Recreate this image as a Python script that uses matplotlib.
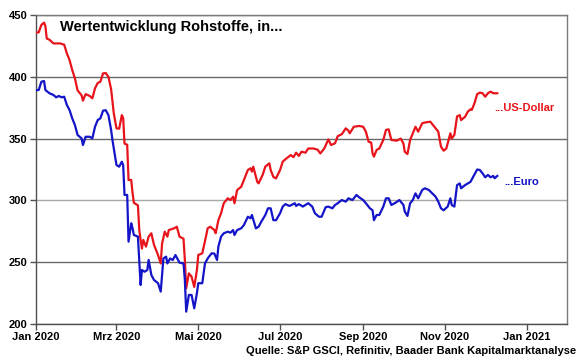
import matplotlib
matplotlib.use("Agg")
import matplotlib.pyplot as plt
import pandas as pd

plt.rcParams['font.family'] = ['Liberation Sans', 'DejaVu Sans']

title = "Wertentwicklung Rohstoffe, in..."
source = "Quelle: S&P GSCI, Refinitiv, Baader Bank Kapitalmarktanalyse"
label_usd = "...US-Dollar"
label_eur = "...Euro"

usd_dates = [
    "2020-01-01", "2020-01-03", "2020-01-05", "2020-01-07", "2020-01-08", "2020-01-09", "2020-01-11",
    "2020-01-14", "2020-01-16", "2020-01-19", "2020-01-22", "2020-01-24", "2020-01-26", "2020-01-28",
    "2020-01-30", "2020-02-01", "2020-02-04", "2020-02-05", "2020-02-07", "2020-02-10", "2020-02-12",
    "2020-02-14", "2020-02-16", "2020-02-18", "2020-02-20", "2020-02-22", "2020-02-24", "2020-02-26",
    "2020-02-28", "2020-03-01", "2020-03-03", "2020-03-05", "2020-03-06", "2020-03-07", "2020-03-09",
    "2020-03-10", "2020-03-12", "2020-03-13", "2020-03-14", "2020-03-17", "2020-03-18", "2020-03-19",
    "2020-03-20", "2020-03-21", "2020-03-23", "2020-03-25", "2020-03-27", "2020-03-29", "2020-04-01",
    "2020-04-03", "2020-04-04", "2020-04-06", "2020-04-08", "2020-04-09", "2020-04-13", "2020-04-15",
    "2020-04-17", "2020-04-20", "2020-04-21", "2020-04-22", "2020-04-24", "2020-04-26", "2020-04-28",
    "2020-04-30", "2020-05-01", "2020-05-04", "2020-05-07", "2020-05-08", "2020-05-10", "2020-05-13",
    "2020-05-14", "2020-05-16", "2020-05-18", "2020-05-20", "2020-05-23", "2020-05-25", "2020-05-27",
    "2020-05-28", "2020-05-30", "2020-06-02", "2020-06-04", "2020-06-07", "2020-06-09", "2020-06-10",
    "2020-06-11", "2020-06-14", "2020-06-15", "2020-06-18", "2020-06-20", "2020-06-23", "2020-06-24",
    "2020-06-26", "2020-06-28", "2020-07-01", "2020-07-03", "2020-07-05", "2020-07-09", "2020-07-11",
    "2020-07-13", "2020-07-15", "2020-07-17", "2020-07-20", "2020-07-22", "2020-07-26", "2020-07-29",
    "2020-07-31", "2020-08-03", "2020-08-06", "2020-08-08", "2020-08-11", "2020-08-13", "2020-08-16",
    "2020-08-19", "2020-08-21", "2020-08-22", "2020-08-25", "2020-08-29", "2020-09-01", "2020-09-03",
    "2020-09-05", "2020-09-07", "2020-09-08", "2020-09-09", "2020-09-11", "2020-09-13", "2020-09-16",
    "2020-09-18", "2020-09-20", "2020-09-22", "2020-09-26", "2020-09-29", "2020-10-01", "2020-10-02",
    "2020-10-04", "2020-10-06", "2020-10-08", "2020-10-10", "2020-10-12", "2020-10-15", "2020-10-17",
    "2020-10-21", "2020-10-22", "2020-10-25", "2020-10-27", "2020-10-29", "2020-10-31", "2020-11-02",
    "2020-11-05", "2020-11-06", "2020-11-08", "2020-11-10", "2020-11-12", "2020-11-13", "2020-11-16",
    "2020-11-18", "2020-11-20", "2020-11-21", "2020-11-23", "2020-11-25", "2020-11-27", "2020-11-29",
    "2020-12-01", "2020-12-03", "2020-12-05", "2020-12-07", "2020-12-10",
]
usd_values = [
    435.7, 436, 442, 443.8, 441, 431, 430,
    427, 427, 427, 426, 419, 413.6, 405.5,
    398.8, 389, 385, 380.7, 386, 384.5, 382.6,
    390.7, 395, 396, 402.8, 403, 400, 390,
    370.5, 358.3, 358, 369, 366.7, 346, 345,
    316.5, 316.5, 306, 298, 296, 276, 268,
    261, 268, 262.6, 270.7, 273.4, 264, 255.8,
    249, 265, 274.7, 270.7, 276, 277.4, 278.7,
    270.7, 269, 251.8, 228.9, 241, 238.3, 230,
    243.7, 255.8, 257.2, 272, 277.4, 278.7, 276,
    273.4, 284, 289.6, 297.7, 301.7, 300.3, 303,
    297.7, 308.4, 311, 316.5, 324.6, 326, 323.3,
    327.3, 315, 313.8, 320.6, 327.3, 330, 324.6,
    319, 317.8, 324.6, 331.3, 333.3, 336.7, 335,
    338.6, 336, 339.4, 338.6, 342, 342, 341,
    338, 342, 349.4, 344.8, 346.2, 352, 353.5,
    358.3, 356.4, 354.3, 359.6, 360.2, 359.6, 355.6,
    347.5, 346.7, 338, 335.4, 340.8, 342, 348.9,
    357, 357.5, 348.9, 348.3, 350, 346, 339.4,
    337.5, 348.9, 354.3, 359.6, 355.6, 362.4, 363,
    363.7, 362.4, 358.3, 355.6, 343.5, 340.2, 342,
    354.3, 350, 353, 368, 369, 365, 367.7,
    371.8, 373.7, 373.2, 378.6, 386, 387.2, 386.7,
    383.9, 386.7, 388, 386.7, 386.7,
]

eur_dates = [
    "2020-01-01", "2020-01-03", "2020-01-05", "2020-01-07", "2020-01-08", "2020-01-11", "2020-01-14",
    "2020-01-16", "2020-01-18", "2020-01-20", "2020-01-22", "2020-01-24", "2020-01-26", "2020-01-28",
    "2020-01-30", "2020-02-01", "2020-02-04", "2020-02-05", "2020-02-07", "2020-02-10", "2020-02-12",
    "2020-02-14", "2020-02-16", "2020-02-18", "2020-02-20", "2020-02-22", "2020-02-24", "2020-02-26",
    "2020-02-27", "2020-03-01", "2020-03-03", "2020-03-05", "2020-03-06", "2020-03-07", "2020-03-09",
    "2020-03-10", "2020-03-12", "2020-03-13", "2020-03-14", "2020-03-17", "2020-03-18", "2020-03-19",
    "2020-03-20", "2020-03-22", "2020-03-24", "2020-03-25", "2020-03-27", "2020-03-29", "2020-04-01",
    "2020-04-03", "2020-04-05", "2020-04-07", "2020-04-08", "2020-04-10", "2020-04-12", "2020-04-14",
    "2020-04-17", "2020-04-20", "2020-04-21", "2020-04-22", "2020-04-24", "2020-04-26", "2020-04-28",
    "2020-04-30", "2020-05-01", "2020-05-04", "2020-05-06", "2020-05-08", "2020-05-09", "2020-05-11",
    "2020-05-13", "2020-05-15", "2020-05-16", "2020-05-18", "2020-05-20", "2020-05-23", "2020-05-25",
    "2020-05-27", "2020-05-28", "2020-05-30", "2020-06-02", "2020-06-04", "2020-06-07", "2020-06-09",
    "2020-06-10", "2020-06-13", "2020-06-15", "2020-06-17", "2020-06-20", "2020-06-22", "2020-06-24",
    "2020-06-26", "2020-06-28", "2020-07-01", "2020-07-03", "2020-07-05", "2020-07-08", "2020-07-12",
    "2020-07-13", "2020-07-15", "2020-07-18", "2020-07-20", "2020-07-22", "2020-07-25", "2020-07-27",
    "2020-07-30", "2020-08-01", "2020-08-04", "2020-08-06", "2020-08-09", "2020-08-11", "2020-08-13",
    "2020-08-16", "2020-08-19", "2020-08-21", "2020-08-24", "2020-08-27", "2020-08-29", "2020-09-01",
    "2020-09-03", "2020-09-06", "2020-09-08", "2020-09-09", "2020-09-11", "2020-09-13", "2020-09-16",
    "2020-09-18", "2020-09-20", "2020-09-22", "2020-09-25", "2020-09-28", "2020-10-01", "2020-10-02",
    "2020-10-04", "2020-10-06", "2020-10-08", "2020-10-10", "2020-10-12", "2020-10-15", "2020-10-17",
    "2020-10-20", "2020-10-22", "2020-10-25", "2020-10-27", "2020-10-29", "2020-10-31", "2020-11-03",
    "2020-11-05", "2020-11-06", "2020-11-08", "2020-11-10", "2020-11-12", "2020-11-13", "2020-11-16",
    "2020-11-18", "2020-11-20", "2020-11-22", "2020-11-25", "2020-11-27", "2020-11-29", "2020-12-01",
    "2020-12-03", "2020-12-05", "2020-12-07", "2020-12-08", "2020-12-10",
]
eur_values = [
    389.3, 389.3, 396, 396.6, 389.3, 386.7, 385.3,
    383.4, 384.5, 383.4, 383.9, 377.2, 373.1, 366.4,
    361, 352.9, 350.2, 344.8, 351.5, 351.5, 350.2,
    359.6, 365, 366.4, 372.6, 373, 369, 357,
    348.9, 328.6, 327.3, 331.3, 328.6, 304.4, 304.4,
    266.6, 281.5, 277.4, 272, 270.7, 250.4, 231.6,
    243.7, 242.3, 243.7, 251.8, 239.7, 235.6, 233,
    226.2, 253, 254.5, 249, 253, 251.8, 255.8,
    249.6, 249, 235.6, 210, 223.5, 223.5, 212.7,
    225, 233, 233, 249, 253, 254.5, 257.2,
    257, 251.8, 262.6, 270.7, 273.4, 274.7, 273.9,
    276, 272, 276, 277.4, 280, 286.8, 285.5,
    288.2, 277.4, 278.7, 282.8, 288.2, 293.6, 293.6,
    284, 284, 289.6, 295, 297, 295.5, 297.7,
    295.5, 297, 295, 296.3, 297.7, 295, 289.6,
    286.8, 286.8, 294.5, 295, 293.6, 296.3, 297.7,
    300.3, 299, 301.7, 300.3, 304.4, 302.5, 300.3,
    297.7, 293.6, 292, 284, 288.2, 288.2, 295,
    301.7, 301.7, 296.3, 298, 300.3, 296.3, 291,
    287.4, 297.7, 300.3, 305.7, 301.7, 308.4, 309.8,
    308.4, 306.2, 303, 299, 293.6, 292, 295,
    301.7, 296.3, 295, 312.4, 313.7, 309.8, 312.4,
    313.7, 315, 319, 325, 324.6, 321.9, 318.7,
    320.6, 318.7, 319.8, 317.9, 319.8,
]

tick_dates = ["2020-01-01", "2020-03-01", "2020-05-01", "2020-07-01",
              "2020-09-01", "2020-11-01", "2021-01-01"]
tick_labels = ["Jan 2020", "Mrz 2020", "Mai 2020", "Jul 2020",
               "Sep 2020", "Nov 2020", "Jan 2021"]
y_ticks = [200, 250, 300, 350, 400, 450]

fig = plt.figure(figsize=(5.8, 3.59), dpi=100)
ax = fig.add_axes([0.0621, 0.0975, 0.9155, 0.8607])

ax.plot(pd.to_datetime(usd_dates), usd_values, color="#e8141b", lw=1.6, zorder=3)
ax.plot(pd.to_datetime(eur_dates), eur_values, color="#1414c8", lw=1.6, zorder=3)

ax.set_xlim(pd.Timestamp("2020-01-01"), pd.Timestamp("2021-01-31"))
ax.set_ylim(200, 450)
ax.set_yticks(y_ticks)
ax.set_xticks(pd.to_datetime(tick_dates))
ax.set_xticklabels(tick_labels)

ax.yaxis.grid(True, color="#6a6a6a", lw=1.0)
for gl, yv in zip(ax.get_ygridlines(), y_ticks):
    if yv == 300:
        gl.set_color("#a8a8a8")
ax.set_axisbelow(True)

for s in ax.spines.values():
    s.set_color("#7a7a7a")
    s.set_linewidth(1.0)
ax.spines["left"].set_color("#505050")
ax.spines["bottom"].set_color("#505050")

ax.tick_params(axis="both", direction="out", length=4, width=1, color="#505050",
               labelsize=8, pad=2)
for lab in ax.get_xticklabels() + ax.get_yticklabels():
    lab.set_fontweight("bold")

ax.text(0.045, 0.96, title, transform=ax.transAxes, fontsize=10.5, fontweight="bold",
        ha="left", va="center", color="black")
ax.text(pd.Timestamp("2020-12-08"), 375, label_usd, fontsize=8, fontweight="bold",
        color="#e8141b", ha="left", va="center")
ax.text(pd.Timestamp("2020-12-15"), 315, label_eur, fontsize=8, fontweight="bold",
        color="#1414c8", ha="left", va="center")

fig.text(0.993, 0.021, source, fontsize=8, fontweight="bold", ha="right", va="center")

fig.savefig("out.png", dpi=100)
